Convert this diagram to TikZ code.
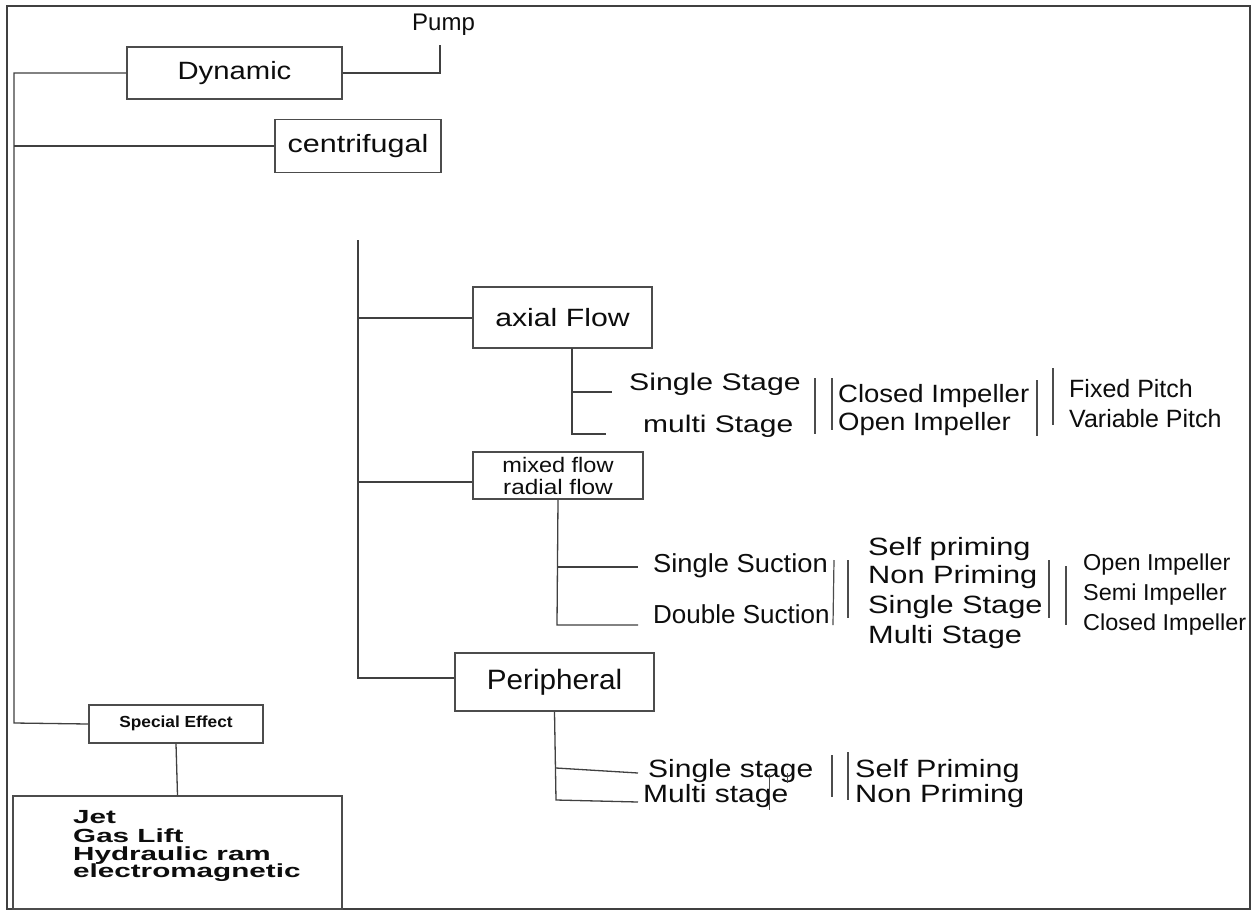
\documentclass[tikz,border=0pt]{standalone}
\usepackage{fontspec}
\usepackage{graphicx}
\setmainfont{Liberation Sans}
\newcommand\TX[3]{{\fontsize{#1}{#1}\selectfont\scalebox{#2}[1]{#3}}}
\newcommand\TB[3]{{\fontsize{#1}{#1}\selectfont\bfseries\scalebox{#2}[1]{#3}}}
\begin{document}
\begin{tikzpicture}[x=1pt,y=-1pt,
  lin/.style={draw=black!75,line width=1.3pt},
  box/.style={draw=black!70,line width=1.4pt,inner sep=0pt,text=black!95},
  txt/.style={inner sep=0pt,anchor=base west,text=black!95},
  bar/.style={draw=black!70,line width=1.2pt}]
\useasboundingbox (0,0) rectangle (1254,911);
\fill[white] (0,0) rectangle (1254,911);
% frame
\draw[draw=black!75,line width=2pt] (7,6) rectangle (1250,909);

% top boxes
\node[txt] (pump) at (412,30) {\TX{24}{1}{Pump}};
\node[box,minimum width=215pt,minimum height=52pt] (dyn) at (234.5,73) {\TX{25}{1.17}{Dynamic}};
\node[box,minimum width=166pt,minimum height=53pt] (cent) at (358,146) {\TX{25}{1.22}{centrifugal}\hspace{10pt}};
\coordinate (pumpend) at (440,45);
\draw[lin] (dyn.east) -- (dyn.east -| pumpend) -- (pumpend);

% left spine
\coordinate (L2) at (14,146);
\coordinate (L3) at (14,723);
\node[box,minimum width=174pt,minimum height=38pt] (spec) at (176,724) {\raisebox{5pt}{\TB{16}{1.08}{Special Effect}}};
\node[box,minimum width=329pt,minimum height=113pt] (list) at (177.5,852.5) {};
\draw[lin] (dyn.west) -- (dyn.west -| L3) -- (L3) -- (spec.west);
\draw[lin] (L2) -- (cent.west);
\draw[lin] (spec.south) -- (list.north);
\node[txt] (jet) at (73,823) {\TB{19}{1.56}{Jet}};
\node[txt] (gas) at (73,842) {\TB{19}{1.56}{Gas Lift}};
\node[txt] (hyd) at (73,860) {\TB{19}{1.56}{Hydraulic ram}};
\node[txt] (ele) at (73,877) {\TB{19}{1.56}{electromagnetic}};

% middle spine
\coordinate (M0) at (358,240);
\coordinate (M1) at (358,318);
\coordinate (M2) at (358,482);
\coordinate (M3) at (358,678);
\node[box,minimum width=179pt,minimum height=61pt] (axial) at (562.5,317.5) {\TX{25}{1.21}{axial Flow}};
\node[box,minimum width=170pt,minimum height=47pt,align=center,font=\fontsize{21}{22}\selectfont] (mixed) at (558,475.5)
  {\scalebox{1.12}[1]{mixed flow}\\\scalebox{1.16}[1]{radial flow}};
\node[box,minimum width=199pt,minimum height=58pt] (peri) at (554.5,682) {\TX{28}{1.06}{Peripheral}\hspace{29pt}};
\draw[lin] (M0) -- (M3) -- (M3 -| peri.west);
\draw[lin] (M1) -- (M1 -| axial.west);
\draw[lin] (M2) -- (M2 -| mixed.west);

% axial branch
\coordinate (A0) at (572,348);
\coordinate (A1) at (572,392);
\coordinate (A2) at (572,434);
\coordinate (A1e) at (612,392);
\coordinate (A2e) at (606,434);
\draw[lin] (A0) -- (A2) -- (A2e);
\draw[lin] (A1) -- (A1e);
\node[txt] (ss1) at (629,390) {\TX{24}{1.26}{Single Stage}};
\node[txt] (ms1) at (643,432) {\TX{24}{1.25}{multi Stage}};
\draw[bar] (815,378) -- (815,434);
\draw[bar] (832,378) -- (832,430);
\node[txt] (ci1) at (838,402) {\TX{25}{1.1}{Closed Impeller}};
\node[txt] (oi1) at (838,430) {\TX{25}{1.1}{Open Impeller}};
\draw[bar] (1037,380) -- (1037,436);
\draw[bar] (1053,368) -- (1053,425);
\node[txt] (fp) at (1069,397) {\TX{25}{1.0}{Fixed Pitch}};
\node[txt] (vp) at (1069,427) {\TX{25}{1.0}{Variable Pitch}};

% radial branch
\coordinate (R1) at (557,567);
\coordinate (R2) at (557,625);
\coordinate (R1e) at (638,567);
\coordinate (R2e) at (638,625);
\draw[lin] (mixed.south) -- (R2) -- (R2e);
\draw[lin] (R1) -- (R1e);
\node[txt] (ssu) at (653,572) {\TX{26}{1.05}{Single Suction}};
\node[txt] (dsu) at (653,623) {\TX{26}{1.0}{Double Suction}};
\draw[bar] (834,560) -- (833,625);
\draw[bar] (848,560) -- (848,618);
\node[txt] (sp2) at (868,555) {\TX{25}{1.23}{Self priming}};
\node[txt] (np2) at (868,583) {\TX{25}{1.23}{Non Priming}};
\node[txt] (ss2) at (868,613) {\TX{25}{1.23}{Single Stage}};
\node[txt] (ms2) at (868,643) {\TX{25}{1.23}{Multi Stage}};
\draw[bar] (1049,560) -- (1049,618);
\draw[bar] (1066,566) -- (1066,625);
\node[txt] (oi2) at (1083,570) {\TX{23}{1.02}{Open Impeller}};
\node[txt] (si2) at (1083,600) {\TX{23}{1.02}{Semi Impeller}};
\node[txt] (ci2) at (1083,630) {\TX{23}{1.02}{Closed Impeller}};

% peripheral branch
\coordinate (P1) at (556,768);
\coordinate (P2) at (556,800);
\coordinate (P1e) at (638,773);
\coordinate (P2e) at (638,802);
\draw[lin] (peri.south) -- (P2) -- (P2e);
\draw[lin] (P1) -- (P1e);
\node[txt] (ss3) at (648,777) {\TX{25}{1.2}{Single stage}};
\node[txt] (ms3) at (643,802) {\TX{25}{1.2}{Multi stage}};
\draw[bar,line width=0.9pt] (769,774) -- (769,810);
\draw[bar,line width=0.9pt] (787,773) -- (787,783);
\draw[bar] (832,755) -- (832,797);
\draw[bar] (848,752) -- (848,800);
\node[txt] (sp3) at (855,777) {\TX{25}{1.22}{Self Priming}};
\node[txt] (np3) at (855,802) {\TX{25}{1.23}{Non Priming}};
\end{tikzpicture}
\end{document}
